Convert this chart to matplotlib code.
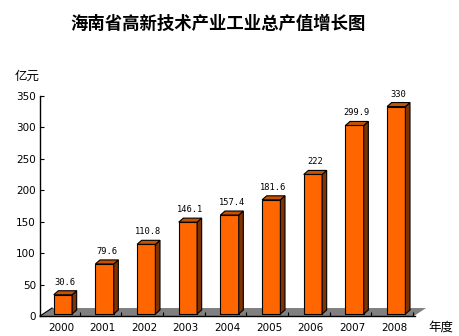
import matplotlib
matplotlib.use('Agg')
import matplotlib.pyplot as plt
from matplotlib.patches import Polygon

plt.rcParams['font.family'] = ['Noto Sans CJK SC', 'DejaVu Sans']

years = ['2000', '2001', '2002', '2003', '2004', '2005', '2006', '2007', '2008']
values = [30.6, 79.6, 110.8, 146.1, 157.4, 181.6, 222, 299.9, 330]
labels = ['30.6', '79.6', '110.8', '146.1', '157.4', '181.6', '222', '299.9', '330']
yticks = [0, 50, 100, 150, 200, 250, 300, 350]

front = '#ff6600'
side = '#7f3300'
top = '#c65200'

fig = plt.figure(figsize=(4.6, 3.36), dpi=100)
ax = fig.add_axes([40 / 460, 1 - 316 / 336, 375 / 460, 220 / 336])
ax.set_xlim(-0.5, 8.5)
ax.set_ylim(0, 350)

# floor, 3d look
fdx, fdy = 0.29, 12.7
floor = Polygon([(-0.5, 0), (8.5, 0), (8.5 + fdx, fdy), (-0.5 + fdx, fdy)],
                closed=True, facecolor='#808080', edgecolor='none', clip_on=False, zorder=1)
ax.add_patch(floor)
ax.plot([-0.5, -0.5 + fdx], [0, fdy], color='black', lw=0.8, clip_on=False, zorder=1.5)
ax.plot([8.5, 8.5 + fdx], [0, fdy], color='white', lw=0.8, clip_on=False, zorder=1.5)

# bars
w = 0.44
dx, dy = 0.11, 6.4
base = 3.2
for i, v in enumerate(values):
    c = i + 0.05
    x0, x1 = c - w / 2, c + w / 2
    h = base + v
    ax.add_patch(Polygon([(x0, base), (x1, base), (x1, h), (x0, h)],
                         facecolor=front, edgecolor='black', lw=0.8, zorder=3, clip_on=False))
    ax.add_patch(Polygon([(x1, base), (x1 + dx, base + dy), (x1 + dx, h + dy), (x1, h)],
                         facecolor=side, edgecolor='black', lw=0.8, zorder=3, clip_on=False))
    ax.add_patch(Polygon([(x0, h), (x1, h), (x1 + dx, h + dy), (x0 + dx, h + dy)],
                         facecolor=top, edgecolor='black', lw=0.8, zorder=3, clip_on=False))
    ax.annotate(labels[i], (c + dx / 2, h + dy), xytext=(0, 4), textcoords='offset pixels',
                ha='center', va='bottom', fontsize=6.3, family='DejaVu Sans Mono')

ax.spines['top'].set_visible(False)
ax.spines['right'].set_visible(False)
ax.spines['left'].set_linewidth(1)
ax.spines['bottom'].set_linewidth(1)
ax.spines['bottom'].set_zorder(2)

ax.set_yticks(yticks)
ax.set_yticklabels([str(t) for t in yticks], family='DejaVu Sans', fontsize=7.5)
ax.tick_params(axis='y', direction='in', length=3, width=0.8, pad=3)

ax.set_xticks(range(len(years)))
ax.set_xticklabels(years, family='DejaVu Sans', fontsize=7.5)
ax.set_xticks([i + 0.45 for i in range(len(years))], minor=True)
ax.tick_params(axis='x', which='major', length=0, pad=5)
ax.tick_params(axis='x', which='minor', direction='in', length=3, width=0.8)

fig.text(218 / 460, 1 - 24 / 336, '海南省高新技术产业工业总产值增长图', ha='center', va='center',
         fontsize=12.5, fontweight='bold')
fig.text(15 / 460, 1 - 76 / 336, '亿元', ha='left', va='center', fontsize=9)
fig.text(428 / 460, 1 - 327 / 336, '年度', ha='left', va='center', fontsize=9)

fig.savefig('out.png', dpi=100)
